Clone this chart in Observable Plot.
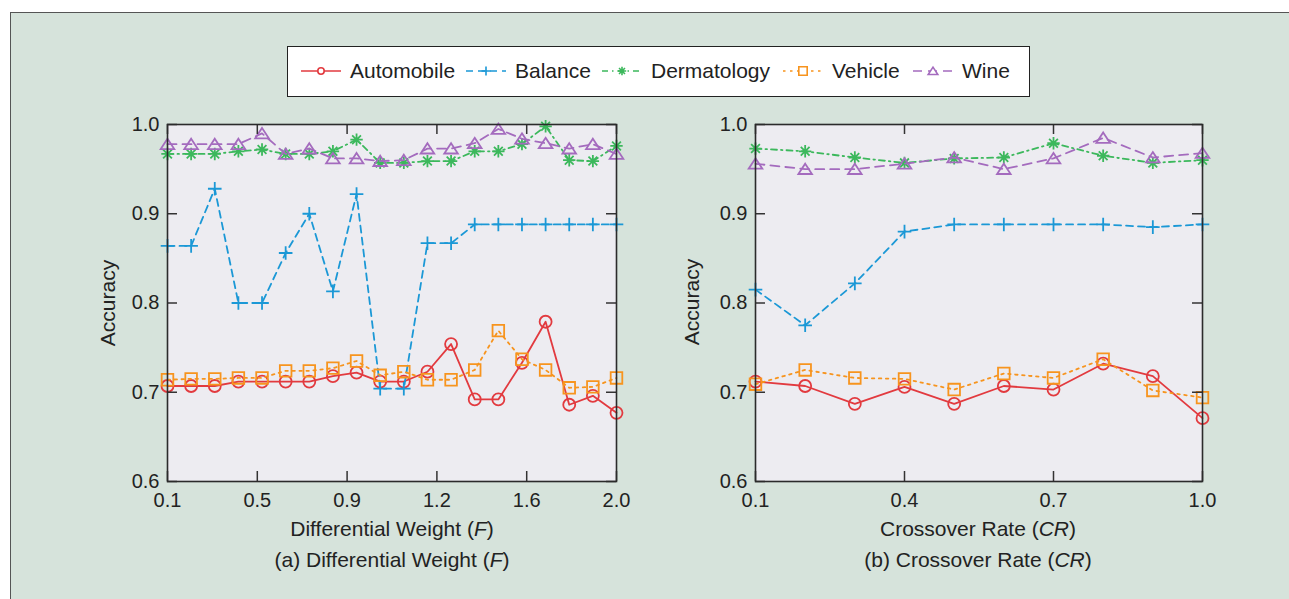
<!DOCTYPE html>
<html>
<head>
<meta charset="utf-8">
<script src="https://cdn.jsdelivr.net/npm/d3@7"></script>
<script src="https://cdn.jsdelivr.net/npm/@observablehq/plot@0.6"></script>
<style>
  body { margin: 0; background: #fff; font-family: "Liberation Sans", Arial, Helvetica, sans-serif; color: #222; }
  #page { position: relative; width: 1289px; height: 599px; overflow: hidden; }
  #panel { position: absolute; left: 10px; top: 12px; width: 1320px; height: 640px; background: #d6e3db; border: 1.5px solid #555; box-sizing: border-box; }
  .chart { position: absolute; top: 100px; }
  .lbl { position: absolute; font-size: 21px; line-height: 21px; white-space: nowrap; width: 500px; text-align: center; }
  .ylbl { position: absolute; font-size: 21px; line-height: 21px; white-space: nowrap; transform: translate(-50%, -50%) rotate(-90deg); }
  #legend { position: absolute; left: 287px; top: 46px; width: 743px; height: 51px; background: #fff; border: 1.5px solid #222; box-sizing: border-box; }
  .lg-item { position: absolute; top: 0; height: 48px; }
  .lg-text { position: absolute; top: 13px; font-size: 21px; line-height: 21px; white-space: nowrap; }
</style>
</head>
<body>
<div id="page">
  <div id="panel"></div>
  <div id="legend"></div>
  <div id="chartF" class="chart" style="left:80px"></div>
  <div id="chartCR" class="chart" style="left:660px"></div>
  <div class="ylbl" style="left:107px; top:303px">Accuracy</div>
  <div class="ylbl" style="left:691px; top:302px">Accuracy</div>
  <div class="lbl" style="left:142px; top:518px">Differential Weight (<i>F</i>)</div>
  <div class="lbl" style="left:142px; top:549px">(a) Differential Weight (<i>F</i>)</div>
  <div class="lbl" style="left:728px; top:518px">Crossover Rate (<i>CR</i>)</div>
  <div class="lbl" style="left:728px; top:549px">(b) Crossover Rate (<i>CR</i>)</div>
</div>
<script>
// Accuracy against the differential weight F
const weightF = [0.1, 0.2, 0.3, 0.4, 0.5, 0.6, 0.7, 0.8, 0.9, 1.0, 1.1, 1.2, 1.3, 1.4, 1.5, 1.6, 1.7, 1.8, 1.9, 2.0];
const automobileF  = [0.707, 0.707, 0.707, 0.712, 0.712, 0.712, 0.712, 0.718, 0.722, 0.712, 0.712, 0.723, 0.754, 0.692, 0.692, 0.733, 0.779, 0.686, 0.696, 0.677];
const balanceF     = [0.864, 0.864, 0.928, 0.800, 0.800, 0.856, 0.900, 0.813, 0.922, 0.704, 0.704, 0.867, 0.867, 0.888, 0.888, 0.888, 0.888, 0.888, 0.888, 0.888];
const dermatologyF = [0.967, 0.967, 0.967, 0.970, 0.972, 0.967, 0.967, 0.970, 0.983, 0.957, 0.957, 0.959, 0.959, 0.970, 0.970, 0.978, 0.998, 0.960, 0.959, 0.976];
const vehicleF     = [0.714, 0.715, 0.715, 0.716, 0.716, 0.724, 0.724, 0.727, 0.735, 0.719, 0.723, 0.714, 0.714, 0.725, 0.769, 0.737, 0.725, 0.705, 0.706, 0.716];
const wineF        = [0.978, 0.978, 0.978, 0.978, 0.990, 0.967, 0.973, 0.962, 0.962, 0.959, 0.960, 0.973, 0.973, 0.979, 0.995, 0.984, 0.979, 0.973, 0.978, 0.967];

// Accuracy against the crossover rate CR
const rateCR = [0.1, 0.2, 0.3, 0.4, 0.5, 0.6, 0.7, 0.8, 0.9, 1.0];
const automobileCR  = [0.712, 0.707, 0.687, 0.706, 0.687, 0.707, 0.703, 0.732, 0.718, 0.671];
const balanceCR     = [0.815, 0.775, 0.822, 0.880, 0.888, 0.888, 0.888, 0.888, 0.885, 0.888];
const dermatologyCR = [0.973, 0.970, 0.963, 0.957, 0.962, 0.963, 0.979, 0.965, 0.957, 0.960];
const vehicleCR     = [0.709, 0.725, 0.716, 0.715, 0.703, 0.721, 0.716, 0.737, 0.702, 0.694];
const wineCR        = [0.956, 0.950, 0.950, 0.956, 0.963, 0.950, 0.962, 0.985, 0.963, 0.968];

// Axis ticks
const xTicksF  = [0.1, 0.48, 0.86, 1.24, 1.62, 2.0];
const xTicksCR = [0.1, 0.4, 0.7, 1.0];
const yTicks   = [0.6, 0.7, 0.8, 0.9, 1.0];
const seriesNames = ["Automobile", "Balance", "Dermatology", "Vehicle", "Wine"];

// Outline marker shapes; the size handed in by Plot is pi * r^2
const radius = (size) => Math.sqrt(size / Math.PI);
const symCircle = { draw(ctx, size) { const r = radius(size); ctx.moveTo(r, 0); ctx.arc(0, 0, r, 0, 2 * Math.PI); } };
const symPlus = { draw(ctx, size) { const r = radius(size); ctx.moveTo(-r, 0); ctx.lineTo(r, 0); ctx.moveTo(0, -r); ctx.lineTo(0, r); } };
const symStar = { draw(ctx, size) {
  const r = radius(size), d = r * Math.SQRT1_2;
  ctx.moveTo(-r, 0); ctx.lineTo(r, 0); ctx.moveTo(0, -r); ctx.lineTo(0, r);
  ctx.moveTo(-d, -d); ctx.lineTo(d, d); ctx.moveTo(-d, d); ctx.lineTo(d, -d);
} };
const symSquare = { draw(ctx, size) { const r = radius(size); ctx.rect(-r, -r, 2 * r, 2 * r); } };
const symTriangle = { draw(ctx, size) {
  const r = radius(size);
  ctx.moveTo(0, -0.8 * r); ctx.lineTo(r, 0.72 * r); ctx.lineTo(-r, 0.72 * r); ctx.closePath();
} };

const styles = {
  Automobile:  { color: "#e23a3f", dash: null,          symbol: symCircle,   r: 6,   lr: 3.2 },
  Balance:     { color: "#1b98d6", dash: "7,5",         symbol: symPlus,     r: 6.8, lr: 4.5 },
  Dermatology: { color: "#3cb85c", dash: "6,4,1.5,4",   symbol: symStar,     r: 6.2, lr: 4.2 },
  Vehicle:     { color: "#f7941e", dash: "2.5,4.5",     symbol: symSquare,   r: 5.8, lr: 4.2 },
  Wine:        { color: "#a46bbe", dash: "9,6",         symbol: symTriangle, r: 6.8, lr: 4.8 }
};

const font = `"Liberation Sans", Arial, Helvetica, sans-serif`;

function drawPanel(el, { xs, columns, xDomain, xTicks, marginLeft, frameW }) {
  const marginTop = 24, marginRight = 20, marginBottom = 40, frameH = 357;
  const marks = [Plot.frame({ fill: "#edecf1" })];
  seriesNames.forEach((name, k) => {
    const s = styles[name];
    const rows = xs.map((x, i) => ({ x, y: columns[k][i] }));
    marks.push(Plot.line(rows, { x: "x", y: "y", stroke: s.color, strokeWidth: 1.8, strokeDasharray: s.dash }));
    marks.push(Plot.dot(rows, { x: "x", y: "y", symbol: s.symbol, r: s.r, stroke: s.color, strokeWidth: 1.8, fill: "none" }));
  });
  const tick = { stroke: "#333", strokeWidth: 1.5 };
  marks.push(
    Plot.tickX(xTicks, { x: (d) => d, insetTop: frameH - 10, ...tick }),
    Plot.tickX(xTicks, { x: (d) => d, insetBottom: frameH - 10, ...tick }),
    Plot.tickY(yTicks, { y: (d) => d, insetRight: frameW - 10, ...tick }),
    Plot.tickY(yTicks, { y: (d) => d, insetLeft: frameW - 10, ...tick }),
    Plot.axisX(xTicks, { tickSize: 0, tickPadding: 11, tickFormat: d3.format(".1f"), label: null, fontSize: 20, fill: "#222" }),
    Plot.axisY(yTicks, { tickSize: 0, tickPadding: 8, tickFormat: d3.format(".1f"), label: null, fontSize: 20, fill: "#222" }),
    Plot.frame({ stroke: "#2b2b2b", strokeWidth: 1.6 })
  );
  const chart = Plot.plot({
    width: marginLeft + frameW + marginRight,
    height: marginTop + frameH + marginBottom,
    marginLeft, marginRight, marginTop, marginBottom,
    style: { background: "transparent", fontFamily: font, fontSize: "20px", color: "#222", overflow: "visible" },
    x: { domain: xDomain },
    y: { domain: [0.6, 1.0] },
    marks
  });
  el.appendChild(chart);
}

drawPanel(document.getElementById("chartF"), {
  xs: weightF,
  columns: [automobileF, balanceF, dermatologyF, vehicleF, wineF],
  xDomain: [0.1, 2.0], xTicks: xTicksF, marginLeft: 87, frameW: 449
});
drawPanel(document.getElementById("chartCR"), {
  xs: rateCR,
  columns: [automobileCR, balanceCR, dermatologyCR, vehicleCR, wineCR],
  xDomain: [0.1, 1.0], xTicks: xTicksCR, marginLeft: 95, frameW: 447
});

// Legend row: line sample with a small marker, then the series name
const legend = d3.select("#legend");
const itemX = [12, 177, 313, 494, 624];   // sample start, relative to the box
seriesNames.forEach((name, k) => {
  const s = styles[name];
  const item = legend.append("div").attr("class", "lg-item").style("left", itemX[k] + "px");
  const svg = item.append("svg").attr("width", 42).attr("height", 48).style("position", "absolute").style("left", "0px").style("top", "0px");
  svg.append("line").attr("x1", 1).attr("x2", 41).attr("y1", 24).attr("y2", 24)
    .attr("stroke", s.color).attr("stroke-width", 1.6).attr("stroke-dasharray", s.dash);
  svg.append("path").attr("transform", "translate(21,24)")
    .attr("d", d3.symbol(s.symbol, Math.PI * s.lr * s.lr)())
    .attr("fill", "#fff").attr("stroke", s.color).attr("stroke-width", 1.6);
  item.append("div").attr("class", "lg-text").style("left", "50px").text(name);
});
</script>
</body>
</html>
